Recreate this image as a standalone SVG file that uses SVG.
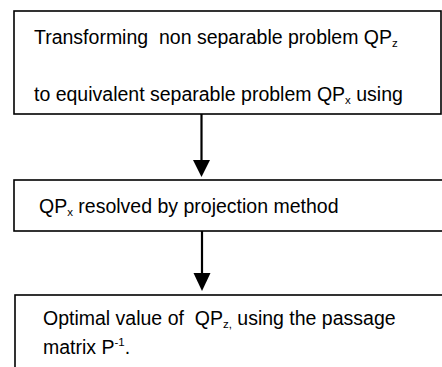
<svg xmlns="http://www.w3.org/2000/svg" width="442" height="367" viewBox="0 0 442 367">
<defs>
<style>
.box{fill:#fff;stroke:#000;stroke-width:1.6}
.t{font-family:"Liberation Sans",Arial,sans-serif;font-size:19.5px;fill:#000}
.sub{font-size:11.5px}
.conn{stroke:#000;stroke-width:2.2;fill:none}
.head{fill:#000}
</style>
</defs>
<rect width="442" height="367" fill="#fff"/>
<g id="node1">
<rect class="box" x="14" y="11" width="427" height="103"/>
<text class="t" x="34" y="44" xml:space="preserve">Transforming  non separable problem QP<tspan class="sub" dy="3">z</tspan></text>
<text class="t" x="34" y="101">to equivalent separable problem QP<tspan class="sub" dy="3">x</tspan><tspan dy="-3"> using</tspan></text>
</g>
<g id="node2">
<rect class="box" x="14" y="180" width="440" height="51"/>
<text class="t" x="39" y="213">QP<tspan class="sub" dy="3">x</tspan><tspan dy="-3"> resolved by projection method</tspan></text>
</g>
<g id="node3">
<rect class="box" x="15" y="295" width="440" height="90"/>
<text class="t" x="43" y="325" xml:space="preserve">Optimal value of  QP<tspan class="sub" dy="3">z,</tspan><tspan dy="-3"> using the passage</tspan></text>
<text class="t" x="43" y="354">matrix P<tspan class="sub" dy="-8">-1</tspan><tspan dy="8">.</tspan></text>
</g>
<g id="connectors">
<line class="conn" x1="201.5" y1="114" x2="201.5" y2="163"/>
<polygon class="head" points="193,160 210,160 201.5,177"/>
<line class="conn" x1="202" y1="231" x2="202" y2="276"/>
<polygon class="head" points="193.5,273 210.5,273 202,291"/>
</g>
</svg>
